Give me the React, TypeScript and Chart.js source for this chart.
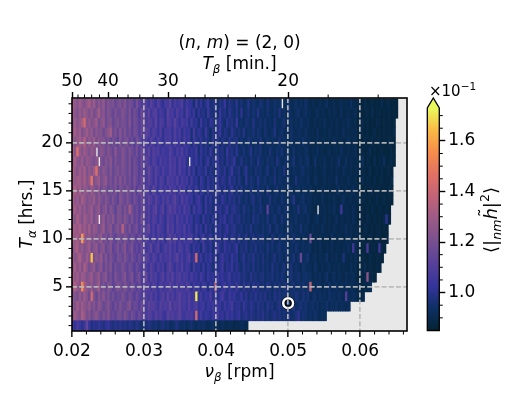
import React, { useEffect, useRef } from "react";
import { Chart, registerables } from "chart.js";

Chart.register(...registerables);

// Cell values, in hundredths of the colour-bar unit (x 10^-1). null = empty cell.
const row01 = [106,102,108,104,100,105,114,103,98,101,99,102,100,98,101,103,99,97,100,98,
100,98,99,97,100,98,96,99,97,95,98,96,99,97,95,97,94,96,98,95,
96,93,94,96,98,94,93,95,92,94,96,93,92,94,93,95,92,91,93,94,
91,92,90,93,91,90,92,91,89,91,90,92,91,90];
const row02 = [123,129,125,121,132,127,119,123,117,121,125,119,115,121,117,123,115,117,113,119,
119,115,121,117,113,119,115,111,117,113,113,107,111,109,105,111,107,109,105,103,
112,108,110,106,108,112,106,104,108,106,108,104,142,102,106,100,104,102,100,104,
103,107,101,103,99,105,101,103,99,101,103,97,99,101,97,100,98,96,99,97,
100,96,98,95,97,99,96,98,95,97,95,98,94,95,97,101,94,96,95,93,
94,92,95,93,91,93,92];
const row03 = [127,121,131,123,129,125,121,127,119,123,117,125,121,115,119,123,117,113,119,115,
121,117,115,119,123,113,117,115,111,117,111,107,113,109,111,107,105,111,107,109,
108,114,106,110,108,112,106,108,104,110,104,106,110,102,104,106,100,104,102,106,
101,105,103,99,105,101,103,107,99,101,101,97,103,99,97,101,99,96,100,97,
98,95,100,96,98,94,97,99,95,96,97,94,96,99,93,95,97,94,96,93,
93,95,92,94,91,93,92,95,91,93,92,94,91,93,92,91,92];
const row04 = [125,123,119,127,121,129,123,117,142,121,115,123,119,125,117,121,115,119,113,117,
115,121,117,113,119,115,111,117,113,109,113,109,107,111,105,109,103,107,111,105,
112,106,110,104,108,112,106,108,104,110,104,106,170,102,106,100,104,102,108,100,
105,99,103,107,101,99,105,101,103,99,99,103,97,101,96,99,97,101,96,99,
96,99,95,97,94,99,96,98,95,96,97,93,96,94,98,95,93,97,94,96,
91,93,95,91,94,92,93,91,95,92,93,91,94,92,90,110,92,91,93,91,
89,88,90];
const row05 = [129,133,127,123,155,131,125,121,127,119,123,129,117,121,115,123,119,113,117,121,
119,115,121,117,113,119,115,111,117,109,113,109,111,105,111,107,103,109,105,107,
106,112,108,104,110,106,108,104,110,106,100,106,102,104,100,106,102,98,104,100,
132,101,99,103,105,99,103,101,99,105,99,96,101,97,99,96,101,97,99,95,
97,95,99,96,94,98,95,97,94,96,98,93,95,97,93,95,94,96,93,95,
140,92,91,94,92,90,93,91,95,91,92,94,90,92,91,93,90,92,91,90,
90,89,88,90,89,91];
const row06 = [133,125,131,123,129,127,121,125,129,119,123,127,117,121,125,115,119,113,121,117,
115,119,123,113,117,121,111,115,119,109,111,115,105,111,107,109,103,107,111,103,
110,106,112,104,108,110,104,108,106,102,108,102,104,100,106,102,98,104,100,102,
99,105,101,103,99,101,105,98,101,99,101,96,99,97,95,100,96,98,95,97,
98,94,96,95,98,94,96,94,97,95,92,95,97,93,94,96,92,94,95,93,
94,90,92,91,93,90,92,95,90,91,93,90,92,91,89,93,90,91,92,90,
87,89,88,89,125,88,89,87];
const row07 = [127,131,123,129,121,133,125,119,123,127,117,121,125,115,121,117,123,113,119,115,
115,121,117,113,119,115,111,117,113,109,113,109,105,111,107,103,109,105,107,101,
108,112,106,102,108,104,110,102,106,104,98,106,100,102,98,104,98,102,100,96,
103,99,101,105,97,101,99,103,97,101,97,95,100,96,98,95,99,95,97,94,
97,94,96,93,99,94,96,93,95,97,92,94,97,92,95,93,91,95,93,92,
92,90,94,91,89,92,90,91,93,89,91,90,92,89,91,90,89,92,90,91,
87,89,88,91,87,89,88,87,89,88];
const row08 = [131,123,127,133,125,121,129,123,165,119,125,121,127,117,123,115,121,117,113,119,
119,115,121,117,113,119,115,111,117,113,107,113,109,105,111,107,103,109,105,107,
106,110,104,108,112,104,108,102,106,110,100,104,142,100,104,98,102,100,104,98,
103,97,101,105,99,101,97,103,99,101,95,97,101,95,98,96,100,95,97,94,
98,94,96,93,95,98,93,96,94,92,96,92,94,97,92,94,115,92,94,96,
90,91,93,89,92,90,91,94,89,91,90,92,89,91,97,90,89,91,89,92,
88,87,89,88,87,90,88,87,89,88,87];
const row09 = [125,129,133,123,127,121,125,129,119,123,127,117,121,125,115,119,123,113,117,121,
115,119,123,113,117,121,111,115,109,117,111,105,109,113,103,107,111,101,105,109,
106,110,104,108,102,110,106,102,108,104,98,104,100,102,96,106,100,98,102,96,
101,105,99,97,103,99,101,97,99,103,95,98,96,99,94,97,95,99,94,97,
95,93,98,94,96,93,95,97,93,94,95,91,94,92,96,93,91,94,92,93,
93,89,91,89,92,90,89,91,90,92,89,91,90,89,91,90,93,89,105,90,
89,87,88,88,108,87,88,89,87,105,88,87];
const row10 = [133,127,131,125,158,129,123,127,121,125,119,123,127,117,121,115,123,117,113,119,
119,115,121,117,113,119,115,111,117,113,107,111,107,105,111,103,109,105,107,101,
108,112,106,110,104,108,102,108,104,106,108,100,104,98,102,106,98,100,104,96,
103,99,101,97,103,99,97,101,99,96,101,95,97,99,94,96,99,94,97,95,
97,93,95,92,98,94,92,96,94,93,95,91,93,96,92,93,91,94,92,91,
115,89,91,90,92,89,91,90,89,93,90,89,91,90,89,92,90,91,89,90,
90,87,89,88,87,89,88,87,89,88,87,86,88];
const row11 = [131,130,127,133,125,129,123,131,121,127,125,119,123,129,117,121,125,115,119,123,
117,136,119,115,121,113,117,119,111,115,107,111,115,105,109,103,111,107,105,101,
112,106,110,102,108,106,104,110,102,106,102,98,106,100,102,96,104,98,100,96,
103,99,101,97,99,103,97,99,101,96,96,98,94,97,95,99,94,96,95,93,
96,93,95,98,92,94,96,93,94,92,94,92,95,91,93,92,96,91,93,92,
89,92,90,91,89,93,90,89,91,89,92,90,89,91,90,93,89,91,90,89,
89,88,87,90,88,87,89,87,88,89,87,88,87];
const row12 = [129,123,133,127,121,131,125,123,129,119,125,null,121,127,117,123,119,125,115,121,
121,117,123,119,115,121,113,117,111,119,113,107,111,105,111,107,103,109,105,101,
110,106,108,102,110,104,106,102,108,102,104,98,102,100,96,104,98,100,96,102,
99,97,101,99,103,97,99,101,96,98,99,95,97,94,96,93,99,95,97,93,
95,93,98,92,94,96,93,92,97,93,94,91,93,92,95,91,93,92,91,94,
90,89,91,93,89,90,92,89,91,89,90,93,89,91,90,89,91,89,92,90,
87,89,88,87,90,88,87,89,87,88,87,89,100,88];
const row13 = [127,131,125,129,123,127,121,125,129,119,123,127,117,121,125,115,123,119,113,121,
121,115,121,117,130,119,113,117,111,115,117,107,111,105,109,113,103,107,111,101,
108,112,106,110,104,108,102,110,104,106,98,106,100,104,102,96,104,98,100,96,
103,99,101,97,99,103,96,99,101,97,97,94,99,95,96,93,97,95,94,98,
94,92,112,93,95,92,94,96,92,94,96,92,91,94,92,98,91,93,95,91,
91,90,89,null,91,90,92,89,91,90,93,89,90,105,89,91,90,89,92,90,
87,89,88,87,89,87,90,88,87,89,88,87,89,87];
const row14 = [133,125,129,123,131,127,121,125,123,129,119,125,121,117,123,119,115,121,117,113,
123,119,115,121,117,113,119,115,111,117,111,107,113,109,105,111,107,103,109,105,
110,104,108,112,106,102,110,104,108,102,104,98,102,106,100,96,104,98,102,96,
101,99,97,103,99,96,101,97,99,95,99,95,94,97,93,96,99,94,95,97,
92,94,93,98,92,95,93,92,96,93,93,91,94,99,92,91,93,95,91,92,
92,89,91,90,89,93,90,89,91,89,92,90,89,91,93,89,90,91,89,90,
90,87,89,88,87,89,87,88,90,87,88,89,87,88,87];
const row15 = [129,133,125,131,123,127,125,121,129,123,119,125,117,123,121,115,119,117,121,113,
121,119,115,121,117,113,119,111,117,115,107,111,109,105,113,107,103,109,105,107,
104,110,106,108,102,110,104,108,100,106,102,100,106,98,102,100,96,104,98,100,
97,103,99,97,101,96,99,103,95,99,95,99,94,96,93,98,95,93,97,94,
95,92,98,93,92,94,96,92,94,93,91,95,93,91,92,94,91,93,92,91,
93,90,89,91,89,92,90,89,91,90,89,91,93,89,90,91,89,90,92,89,
89,88,87,89,87,88,90,87,88,89,87,88,87,89,87];
const row16 = [131,127,129,130,125,131,123,127,148,121,125,129,119,123,127,117,121,115,123,117,
123,117,121,115,119,113,121,115,111,117,111,107,113,109,105,111,103,109,107,101,
110,106,108,104,110,102,108,104,106,100,106,100,102,96,104,100,96,102,98,100,
97,103,97,101,99,96,103,97,99,95,99,95,93,101,94,97,95,93,99,94,
94,96,92,94,93,97,92,95,93,92,95,93,91,92,97,91,93,92,91,94,
90,89,93,91,89,90,92,89,91,90,89,95,89,91,90,89,92,90,89,91,
87,88,91,87,89,88,87,90,87,88,89,87,88,87,89];
const row17 = [133,127,123,129,125,131,121,127,123,129,145,123,119,125,121,117,123,115,119,121,
117,121,119,115,121,113,119,117,111,115,111,107,115,109,105,111,107,103,109,105,
104,110,106,108,102,110,104,106,100,108,100,104,96,102,100,98,104,96,100,98,
95,103,99,97,101,95,99,104,96,97,99,93,97,101,94,95,93,97,94,96,
92,94,98,92,93,96,92,94,93,98,91,93,91,94,92,91,93,95,91,92,
91,89,92,90,89,91,93,89,90,91,89,92,90,89,93,90,89,91,89,90,
90,87,89,88,87,91,87,88,89,87,90,87,88,89,87];
const row18 = [127,131,125,123,129,121,127,125,123,119,125,null,121,117,123,119,125,115,121,117,
117,123,119,115,121,113,119,115,111,117,107,113,109,105,111,107,103,109,105,107,
104,110,106,108,102,110,104,108,100,null,102,100,104,98,102,96,100,104,96,100,
99,103,97,99,95,101,97,99,103,95,95,99,94,96,93,97,95,93,99,94,
94,92,96,93,95,92,98,94,92,93,95,91,93,97,91,92,94,91,93,95,
89,90,95,89,91,90,93,89,90,92,89,91,95,89,90,93,89,91,90,89,
90,88,93,87,89,88,87,91,87,89,88,93,87,88,89,87];
const row19 = [131,125,145,127,123,129,125,121,127,123,null,119,125,121,117,123,119,115,125,117,
117,123,119,115,121,117,113,119,111,117,111,107,113,105,111,107,109,103,107,105,
104,110,106,102,108,104,110,102,106,100,102,100,106,96,102,98,100,96,104,98,
95,101,97,99,95,103,97,99,95,101,95,94,97,93,95,99,93,96,94,97,
92,94,92,97,93,92,95,93,96,92,93,92,91,95,91,93,92,91,94,92,
89,91,90,93,89,91,89,90,92,89,90,91,89,93,90,89,91,89,90,92,
87,88,89,87,88,91,87,89,87,88,89,87,88,87,89,87];
const row20 = [129,123,127,131,125,135,121,127,123,129,119,125,121,123,117,121,115,119,117,113,
123,115,119,121,113,117,111,119,115,109,111,109,105,111,107,103,109,105,101,107,
106,108,102,110,104,106,100,108,102,104,96,104,100,98,102,96,100,98,94,102,
97,101,95,99,97,95,101,96,97,99,93,96,94,93,97,95,93,95,94,97,
92,93,95,92,94,93,92,96,92,94,92,91,94,92,91,93,91,95,92,91,
91,89,90,92,89,91,90,89,91,89,92,90,89,91,89,90,92,89,90,91,
87,88,87,89,88,87,90,87,88,89,87,88,87,89,88,87];
const row21 = [127,131,125,129,121,125,129,123,127,119,125,121,123,117,121,125,130,117,121,115,
123,117,121,115,119,113,119,117,111,115,107,113,109,105,111,107,103,109,101,107,
106,108,102,110,104,108,100,106,102,104,96,106,98,102,100,96,104,98,94,100,
97,99,103,95,99,97,95,101,97,95,97,94,99,93,95,94,97,93,96,94,
92,96,93,92,94,98,92,93,95,92,93,91,95,92,91,93,92,91,94,91,
90,91,89,93,89,90,91,89,92,90,89,91,89,90,93,89,91,89,90,91,
87,90,88,87,89,87,88,90,87,88,87,89,87,88,87,89];
const row22 = [125,129,123,127,131,142,123,127,121,125,129,119,123,127,117,121,123,115,119,121,
117,121,119,115,123,113,119,117,111,115,117,107,111,109,105,113,103,109,107,101,
110,108,104,112,106,102,108,104,106,100,106,100,102,96,104,98,100,96,102,100,
95,99,103,97,95,101,97,99,95,103,94,95,93,97,95,93,99,94,93,96,
93,96,92,94,92,97,93,92,94,96,91,92,94,91,93,91,95,92,91,93,
90,89,92,89,91,90,93,89,90,91,89,92,89,90,91,89,93,90,89,91,
87,88,90,87,89,87,88,87,90,88,87,89,87,88,87,88];
const row23 = [129,125,121,127,123,129,125,121,127,119,123,131,121,125,117,123,119,115,121,117,
117,123,119,115,121,113,119,115,109,117,111,107,113,105,109,111,103,107,105,101,
112,106,108,102,110,104,106,100,108,104,100,104,96,102,98,100,96,104,98,96,
101,95,103,97,99,95,101,97,95,99,94,101,93,95,97,93,96,94,99,93,
94,92,96,93,92,95,93,98,92,94,91,95,92,91,93,95,91,92,94,91,
91,89,90,93,89,91,90,89,92,89,91,90,89,93,89,90,91,89,90,92,
87,89,87,88,89,87,91,87,88,89,87,88,87,89,87,88,87];
const row24 = [131,127,123,129,125,121,127,131,123,129,119,125,121,127,117,123,119,121,115,119,
121,117,123,115,119,117,111,119,113,109,113,109,105,111,107,103,111,105,101,107,
106,112,102,108,104,106,110,100,106,102,102,96,106,98,102,96,100,104,96,98,
101,95,99,97,103,95,99,97,95,101,94,97,93,95,99,93,96,94,93,97,
94,92,97,93,92,95,93,94,null,92,93,95,91,92,94,91,93,91,95,92,
89,91,90,89,92,89,91,93,89,90,91,89,90,92,89,91,89,93,90,89,
89,88,87,90,87,88,89,87,88,87,91,87,88,89,87,88,87];

const rows = [row01,row02,row03,row04,row05,row06,row07,row08,row09,row10,row11,row12,
  row13,row14,row15,row16,row17,row18,row19,row20,row21,row22,row23,row24];

const X_START = 0.02;
const X_STEP = 0.00033;
const xTicks = [0.02, 0.03, 0.04, 0.05, 0.06];
const xMinor = [0.022,0.024,0.026,0.028,0.032,0.034,0.036,0.038,0.042,0.044,0.046,0.048,0.052,0.054,0.056,0.058,0.062,0.064,0.066];
const yTicks = [5, 10, 15, 20];
const yMinor = [1,2,3,4,6,7,8,9,11,12,13,14,16,17,18,19,21,22,23,24];
const topTicks = [50, 40, 30, 20];
const topMinor = [48,46,44,42,38,36,34,32,28,26,24,22,18,16];
const cbTicks = [1.0, 1.2, 1.4, 1.6];
const cbMinor = [0.9,0.95,1.05,1.1,1.15,1.25,1.3,1.35,1.45,1.5,1.55,1.65,1.7];
const markerX = [0.05];
const markerY = [3.33];

const V_MIN = 0.85;
const V_MAX = 1.73;
const cmap: [number, number, number][] = [
  [4,35,51],[13,48,100],[53,52,155],[87,64,153],[120,80,143],[155,90,135],
  [192,99,120],[225,113,100],[245,140,75],[250,185,70],[232,250,91],
];
const colorAt = (t: number) => {
  const p = Math.max(0, Math.min(1, t)) * (cmap.length - 1);
  const i = Math.min(cmap.length - 2, Math.floor(p));
  const f = p - i;
  const c = cmap[i].map((a, k) => Math.round(a + (cmap[i + 1][k] - a) * f));
  return `rgb(${c[0]},${c[1]},${c[2]})`;
};
const FONT = '"DejaVu Sans"';
type Run = { t: string; i?: boolean; sub?: boolean; sup?: boolean; tilde?: boolean };
const runFont = (r: Run, size: number) =>
  `${r.i ? "italic " : ""}${r.sub || r.sup ? size * 0.7 : size}px ${FONT}`;
function drawRuns(ctx: CanvasRenderingContext2D, runs: Run[], x: number, y: number, size: number, angle = 0, align = "center") {
  ctx.save();
  ctx.translate(x, y);
  ctx.rotate(angle);
  ctx.fillStyle = "#000";
  ctx.textAlign = "left";
  ctx.textBaseline = "alphabetic";
  let total = 0;
  for (const r of runs) { ctx.font = runFont(r, size); total += ctx.measureText(r.t).width; }
  let cx = align === "center" ? -total / 2 : 0;
  for (const r of runs) {
    ctx.font = runFont(r, size);
    const w = ctx.measureText(r.t).width;
    ctx.fillText(r.t, cx, r.sub ? size * 0.22 : r.sup ? -size * 0.42 : 0);
    if (r.tilde) {
      ctx.font = `${size}px ${FONT}`;
      const tw = ctx.measureText("˜").width;
      ctx.fillText("˜", cx + (w - tw) / 2 + size * 0.06, -size * 0.26);
    }
    cx += w;
  }
  ctx.restore();
}

const mainPlugin = {
  id: "mainDecor",
  beforeDatasetsDraw(chart: any) {
    const { ctx, chartArea: a } = chart;
    ctx.save();
    ctx.fillStyle = "#e8e8e8";
    ctx.fillRect(a.left, a.top, a.right - a.left, a.bottom - a.top);
    ctx.restore();
  },
  afterDraw(chart: any) {
    const { ctx, chartArea: a, scales } = chart;
    ctx.save();
    ctx.strokeStyle = "#000";
    ctx.lineWidth = 1;
    ctx.beginPath();
    for (const v of xMinor) { const p = scales.x.getPixelForValue(v); ctx.moveTo(p, a.bottom); ctx.lineTo(p, a.bottom + 3.5); }
    for (const T of topMinor) { const p = scales.x.getPixelForValue(1 / T); ctx.moveTo(p, a.top); ctx.lineTo(p, a.top - 3.5); }
    for (const v of yMinor) { const p = scales.y.getPixelForValue(v); ctx.moveTo(a.left, p); ctx.lineTo(a.left - 3.5, p); }
    ctx.stroke();
    ctx.lineWidth = 1.6;
    ctx.strokeRect(a.left, a.top, a.right - a.left, a.bottom - a.top);
    ctx.restore();
    const mid = (a.left + a.right) / 2;
    drawRuns(ctx, [{ t: "(" }, { t: "n", i: true }, { t: ", " }, { t: "m", i: true }, { t: ") = (2, 0)" }], mid, 48, 17);
    drawRuns(ctx, [{ t: "T", i: true }, { t: "β", i: true, sub: true }, { t: " [min.]" }], mid, 69, 17);
    drawRuns(ctx, [{ t: "ν", i: true }, { t: "β", i: true, sub: true }, { t: " [rpm]" }], mid, 377, 17);
    drawRuns(ctx, [{ t: "T", i: true }, { t: "α", i: true, sub: true }, { t: " [hrs.]" }], 32, 214, 17, -Math.PI / 2);
  },
};

const cbPlugin = {
  id: "cbDecor",
  afterDraw(chart: any) {
    const { ctx, chartArea: a, scales } = chart;
    const h = a.bottom - a.top;
    ctx.save();
    const g = ctx.createLinearGradient(0, a.bottom, 0, a.top);
    for (let i = 0; i < cmap.length; i++) g.addColorStop(i / (cmap.length - 1), colorAt(i / (cmap.length - 1)));
    ctx.fillStyle = g;
    ctx.fillRect(a.left, a.top, a.right - a.left, h);
    const apex = a.top - 10;
    const midX = (a.left + a.right) / 2;
    ctx.fillStyle = colorAt(1);
    ctx.beginPath();
    ctx.moveTo(a.left, a.top);
    ctx.lineTo(midX, apex);
    ctx.lineTo(a.right, a.top);
    ctx.closePath();
    ctx.fill();
    ctx.strokeStyle = "#000";
    ctx.lineWidth = 1.3;
    ctx.beginPath();
    ctx.moveTo(a.left, a.bottom);
    ctx.lineTo(a.left, a.top);
    ctx.lineTo(midX, apex);
    ctx.lineTo(a.right, a.top);
    ctx.lineTo(a.right, a.bottom);
    ctx.closePath();
    ctx.stroke();
    ctx.lineWidth = 1;
    ctx.beginPath();
    for (const v of cbMinor) { const p = scales.y.getPixelForValue(v); ctx.moveTo(a.right, p); ctx.lineTo(a.right + 3.5, p); }
    ctx.stroke();
    ctx.restore();
    drawRuns(ctx, [{ t: "×10" }, { t: "−1", sup: true }], 429, 96, 15, 0, "left");
    drawRuns(ctx, [{ t: "⟨|" }, { t: "nm", i: true, sub: true }, { t: "h", i: true, tilde: true }, { t: "|" }, { t: "2", sup: true }, { t: "⟩" }], 497, 220, 18, -Math.PI / 2);
  },
};

const GRID = "rgba(185,185,185,0.95)";
const tickFont = { family: "DejaVu Sans", size: 17 };

export default function App() {
  const mainRef = useRef<HTMLCanvasElement>(null);
  const cbRef = useRef<HTMLCanvasElement>(null);
  useEffect(() => {
    const heat: any[] = rows.map((row, r) => {
      const data: any[] = [];
      const colors: string[] = [];
      row.forEach((v, c) => {
        if (v === null) return;
        data.push({ x: X_START + (c + 0.5) * X_STEP, y: [r + 0.5, r + 1.5] });
        colors.push(colorAt((v / 100 - V_MIN) / (V_MAX - V_MIN)));
      });
      return { type: "bar", data, backgroundColor: colors, borderWidth: 0, grouped: false, barThickness: 2.7, order: 5 };
    });
    const markerPts = markerX.map((x, i) => ({ x, y: markerY[i] }));
    const ring = (radius: number, color: string, width: number, order: number) => ({
      type: "scatter", data: markerPts, pointRadius: radius, borderColor: color, pointBorderColor: color,
      pointBorderWidth: width, pointBackgroundColor: "rgba(0,0,0,0)", order,
    });
    const main = new Chart(mainRef.current!, {
      type: "bar",
      data: { datasets: [...heat, ring(6.4, "#000", 0.8, 3), ring(4.8, "#fff", 2.6, 2), ring(2.9, "#000", 1.3, 1)] },
      plugins: [mainPlugin],
      options: {
        animation: false,
        responsive: false,
        layout: { padding: { left: 0, right: 125, top: 0, bottom: 0 } },
        plugins: { legend: { display: false }, tooltip: { enabled: false } },
        scales: {
          x: {
            type: "linear", position: "bottom", min: X_START, max: 0.0665, offset: false,
            afterFit: (s: any) => { s.height = 68; },
            afterBuildTicks: (s: any) => { s.ticks = xTicks.map((value) => ({ value })); },
            ticks: { font: tickFont, color: "#000", padding: 4, maxRotation: 0, autoSkip: false, callback: (v: any) => Number(v).toFixed(2) },
            grid: { offset: false, z: 1, lineWidth: 1.7, tickLength: 6, tickWidth: 1.4, tickColor: "#000", color: (c: any) => (c.tick && c.tick.value === X_START ? "rgba(0,0,0,0)" : GRID) },
            border: { display: false, dash: [5, 2.2] },
          },
          x2: {
            type: "linear", position: "top", min: X_START, max: 0.0665, offset: false,
            afterFit: (s: any) => { s.height = 98; },
            afterBuildTicks: (s: any) => { s.ticks = topTicks.map((T) => ({ value: 1 / T })); },
            ticks: { font: tickFont, color: "#000", padding: 0, maxRotation: 0, autoSkip: false, callback: (v: any) => String(Math.round(1 / Number(v))) },
            grid: { offset: false, drawOnChartArea: false, tickLength: 6, tickWidth: 1.4, tickColor: "#000" },
            border: { display: false },
          },
          y: {
            type: "linear", position: "left", min: 0.44, max: 24.6,
            afterFit: (s: any) => { s.width = 72; },
            afterBuildTicks: (s: any) => { s.ticks = yTicks.map((value) => ({ value })); },
            ticks: { font: tickFont, color: "#000", padding: 3, autoSkip: false },
            grid: { z: 1, lineWidth: 1.7, tickLength: 6, tickWidth: 1.4, tickColor: "#000", color: GRID },
            border: { display: false, dash: [5, 2.2] },
          },
        },
      },
    } as any);
    const cb = new Chart(cbRef.current!, {
      type: "bar",
      data: { labels: [], datasets: [] },
      plugins: [cbPlugin],
      options: {
        animation: false,
        responsive: false,
        layout: { padding: { left: 427.3, right: 0, top: 108, bottom: 68.5 } },
        plugins: { legend: { display: false }, tooltip: { enabled: false } },
        scales: {
          x: { display: false },
          y: {
            type: "linear", position: "right", min: V_MIN, max: V_MAX,
            afterFit: (s: any) => { s.width = 92.7; },
            afterBuildTicks: (s: any) => { s.ticks = cbTicks.map((value) => ({ value })); },
            ticks: { font: tickFont, color: "#000", padding: 3, autoSkip: false, callback: (v: any) => Number(v).toFixed(1) },
            grid: { drawOnChartArea: false, tickLength: 6, tickWidth: 1.4, tickColor: "#000" },
            border: { display: false },
          },
        },
      },
    } as any);
    return () => { main.destroy(); cb.destroy(); };
  }, []);
  const canvasStyle: React.CSSProperties = { position: "absolute", left: 0, top: 0, display: "block" };
  return (
    <div style={{ position: "fixed", left: 0, top: 0, width: 532, height: 399, background: "#fff" }}>
      <canvas ref={mainRef} width={532} height={399} style={canvasStyle} />
      <canvas ref={cbRef} width={532} height={399} style={canvasStyle} />
    </div>
  );
}
